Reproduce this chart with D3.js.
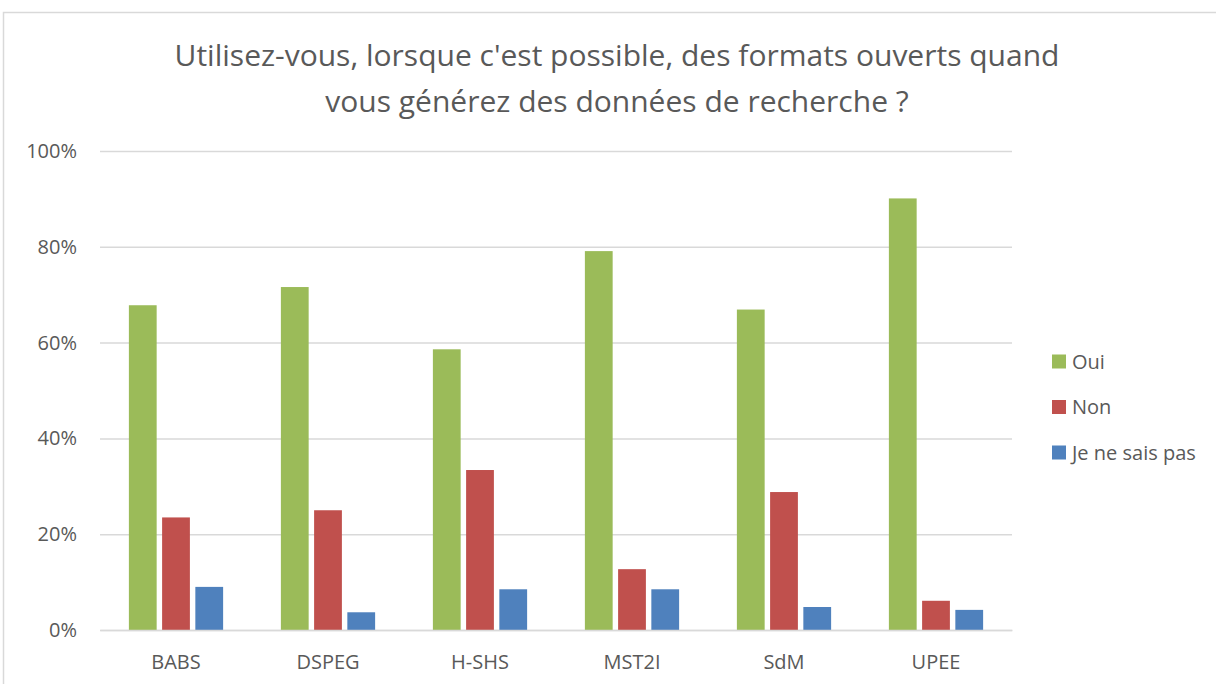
<!DOCTYPE html>
<html>
<head>
<meta charset="utf-8">
<script src="https://cdn.jsdelivr.net/npm/d3@7"></script>
<style>
  html, body { margin: 0; padding: 0; background: #fff; }
  svg { display: block; }
  text { font-family: "Open Sans", "Noto Sans", "Liberation Sans", Arial, sans-serif; fill: #595959; }
</style>
</head>
<body>
<svg id="chart" width="1216" height="684"></svg>
<script>
const categories = ["BABS", "DSPEG", "H-SHS", "MST2I", "SdM", "UPEE"];
const seriesNames = ["Oui", "Non", "Je ne sais pas"];
const seriesColors = ["#9BBB59", "#C0504D", "#4F81BD"];
const oui = [0.678, 0.716, 0.586, 0.791, 0.669, 0.901];
const non = [0.235, 0.250, 0.334, 0.127, 0.288, 0.061];
const jnsp = [0.090, 0.037, 0.085, 0.085, 0.048, 0.042];
const yTicks = [0, 0.2, 0.4, 0.6, 0.8, 1.0];
const titleLines = ["Utilisez-vous, lorsque c'est possible, des formats ouverts quand",
                    "vous générez des données de recherche ?"];

const seriesValues = [oui, non, jnsp];
const FONT = '"Open Sans", "Noto Sans", "Liberation Sans", Arial, sans-serif';

const svg = d3.select("#chart");
const W = 1216, H = 684;
const plot = { left: 100, right: 1012, top: 151, bottom: 630 };

// outer frame
svg.append("rect")
  .attr("x", 3.5).attr("y", 12.5)
  .attr("width", W + 20).attr("height", H + 20)
  .attr("fill", "#fff").attr("stroke", "#d9d9d9").attr("stroke-width", 1.5);

// title
const title = svg.append("text")
  .attr("text-anchor", "middle")
  .style("font-size", "28px");
const tspans = title.selectAll("tspan").data(titleLines).join("tspan")
  .attr("x", 617)
  .attr("y", (d, i) => 66 + i * 46)
  .text(d => d);
// fit title size to the reference's line width
const w0 = tspans.node().getComputedTextLength();
if (w0 > 0) title.style("font-size", (28 * 885 / w0).toFixed(2) + "px");

const x = d3.scaleBand().domain(categories).range([plot.left, plot.right]).paddingInner(0).paddingOuter(0);
const xs = d3.scaleBand().domain(seriesNames)
  .range([x.bandwidth() * 0.19, x.bandwidth() * 0.81]).paddingInner(0.164).paddingOuter(0);
const y = d3.scaleLinear().domain([0, 1]).range([plot.bottom, plot.top]);

// gridlines + y labels
const yAxis = d3.axisLeft(y).tickValues(yTicks).tickFormat(d3.format(".0%"))
  .tickSize(-(plot.right - plot.left)).tickPadding(23);
const gy = svg.append("g").attr("transform", `translate(${plot.left},0)`).call(yAxis);
gy.select(".domain").remove();
gy.selectAll(".tick line").attr("stroke", "#d9d9d9").attr("stroke-width", 1.5);
gy.selectAll(".tick text").style("font-size", "20px").attr("fill", "#595959")
  .style("font-family", FONT);

// bars
const groups = svg.append("g").selectAll("g").data(categories).join("g")
  .attr("transform", d => `translate(${x(d)},0)`);
groups.selectAll("rect")
  .data((c, ci) => seriesNames.map((s, si) => ({ s, si, v: seriesValues[si][ci] })))
  .join("rect")
  .attr("x", d => xs(d.s))
  .attr("width", xs.bandwidth())
  .attr("y", d => y(d.v))
  .attr("height", d => y(0) - y(d.v))
  .attr("fill", d => seriesColors[d.si]);

// x axis
const xAxis = d3.axisBottom(x).tickSize(0).tickPadding(25);
const gx = svg.append("g").attr("transform", `translate(0,${plot.bottom})`).call(xAxis);
gx.select(".domain").attr("stroke", "#d9d9d9").attr("stroke-width", 1.5);
gx.selectAll(".tick text").style("font-size", "20px").attr("fill", "#595959")
  .style("font-family", FONT);

// legend
const legend = svg.append("g").attr("transform", "translate(1052,0)");
const li = legend.selectAll("g").data(seriesNames).join("g")
  .attr("transform", (d, i) => `translate(0,${361.5 + i * 45.5})`);
li.append("rect").attr("x", 0).attr("y", -7).attr("width", 14).attr("height", 14)
  .attr("fill", (d, i) => seriesColors[i]);
li.append("text").attr("x", 20).attr("dy", "0.35em").style("font-size", "20px").text(d => d);
</script>
</body>
</html>
